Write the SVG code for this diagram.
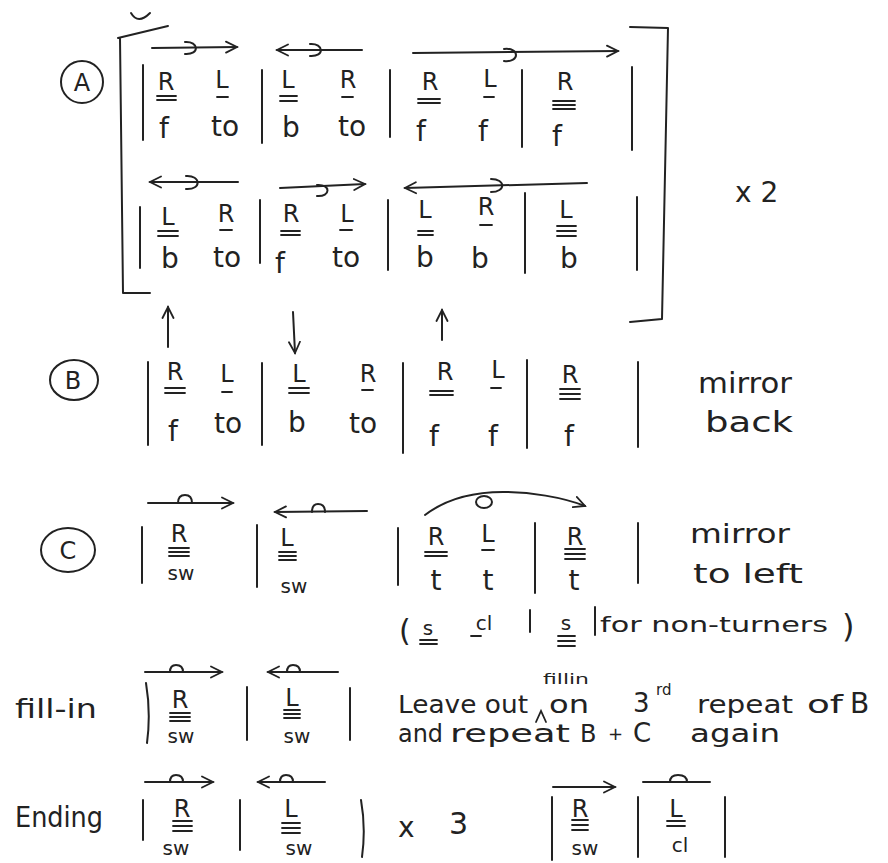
<svg xmlns="http://www.w3.org/2000/svg" width="888" height="863" viewBox="0 0 888 863">
<style>
.s{stroke:#222;stroke-width:2;fill:none;stroke-linecap:round;stroke-linejoin:round}
.u{stroke:#222;stroke-width:1.8;fill:none;stroke-linecap:round}
.t{font-family:"DejaVu Sans","Liberation Sans",sans-serif;fill:#222;text-anchor:middle}
.c{font-size:24px}
.l{font-size:28px}
.m{font-size:20px}
.w{text-anchor:start}
</style>
<defs>
<marker id="ah" markerWidth="14" markerHeight="14" refX="12" refY="7" orient="auto-start-reverse" markerUnits="userSpaceOnUse">
<path d="M1,1.5 L12,7 L1,12.5" fill="none" stroke="#222" stroke-width="1.8" stroke-linecap="round"/>
</marker>
</defs>
<rect width="888" height="863" fill="#fff"/>

<g id="sectionA">
<ellipse class="s" cx="82" cy="82" rx="21" ry="21"/>
<text class="t c" x="82" y="91">A</text>
<path class="s" d="M131,13 Q138,25 150,13"/>
<path class="s" d="M168,26 L118,38 M120,38 L123,293 L150,293"/>
<path class="s" d="M630,27 L668,28 L662,319 L630,322"/>
<text class="t" x="735" y="202" style="font-size:28px;text-anchor:start">x 2</text>
</g>

<g id="connectors">
<!-- row A1 -->
<path class="s" d="M152,48 L237,47" marker-end="url(#ah)"/>
<path class="s" d="M185,42 C199,41 200,55 185,54"/>
<path class="s" d="M277,50 L362,50" marker-start="url(#ah)"/>
<path class="s" d="M310,44 C324,43 325,57 310,56"/>
<path class="s" d="M413,53 L618,51" marker-end="url(#ah)"/>
<path class="s" d="M504,49 C520,47 520,63 504,61"/>
<!-- row A2 -->
<path class="s" d="M150,182 L238,182" marker-start="url(#ah)"/>
<path class="s" d="M186,176 C201,175 202,190 186,189"/>
<path class="s" d="M280,188 L365,184" marker-end="url(#ah)"/>
<path class="s" d="M317,185 C331,184 331,197 317,196"/>
<path class="s" d="M405,188 L587,183" marker-start="url(#ah)"/>
<path class="s" d="M491,179 C506,179 506,192 491,192"/>
<!-- B arrows -->
<path class="s" d="M168,347 L168,307" marker-end="url(#ah)"/>
<path class="s" d="M293,312 L295,353" marker-end="url(#ah)"/>
<path class="s" d="M442,340 L442,310" marker-end="url(#ah)"/>
<!-- C arrows -->
<path class="s" d="M148,503 L233,503" marker-end="url(#ah)"/>
<path class="s" d="M178,503 Q178,495 185,495 Q192,495 192,503"/>
<path class="s" d="M275,512 L367,511" marker-start="url(#ah)"/>
<path class="s" d="M312,512 Q312,504 318,504 Q325,504 325,512"/>
<path class="s" d="M425,515 C450,496 478,492 503,492 C530,492 562,497 585,506" marker-end="url(#ah)"/>
<ellipse class="s" cx="484" cy="502" rx="8" ry="6"/>
<!-- fill-in arrows -->
<path class="s" d="M145,672 L222,672" marker-end="url(#ah)"/>
<path class="s" d="M170,672 Q170,665 176,665 Q183,665 183,672"/>
<path class="s" d="M268,672 L338,672" marker-start="url(#ah)"/>
<path class="s" d="M287,672 Q287,665 293,665 Q300,665 300,672"/>
<!-- ending arrows -->
<path class="s" d="M145,782 L213,782" marker-end="url(#ah)"/>
<path class="s" d="M170,782 Q170,775 176,775 Q183,775 183,782"/>
<path class="s" d="M258,782 L325,782" marker-start="url(#ah)"/>
<path class="s" d="M280,782 Q280,775 286,775 Q293,775 293,782"/>
<path class="s" d="M553,787 L615,787" marker-end="url(#ah)"/>
<path class="s" d="M643,782 L710,782 M670,782 Q670,775 678,775 Q687,775 687,782"/>
</g>

<g id="rowA1">
<path class="s" d="M143,65 L143,140 M262,70 L262,143 M390,70 L390,137 M522,70 L522,147 M632,67 L632,150"/>
<text class="t c" x="166" y="90">R</text>
<path class="u" d="M157,96 L176,96 M157,100 L176,100"/>
<text class="t l" x="164" y="138">f</text>
<text class="t c" x="222" y="88">L</text>
<path class="u" d="M217,97 L228,97"/>
<text class="t l" x="225" y="136">to</text>
<text class="t c" x="288" y="88">L</text>
<path class="u" d="M280,96 L297,96 M280,101 L297,101"/>
<text class="t l" x="291" y="137">b</text>
<text class="t c" x="348" y="88">R</text>
<path class="u" d="M342,97 L353,97"/>
<text class="t l" x="352" y="136">to</text>
<text class="t c" x="430" y="90">R</text>
<path class="u" d="M418,99 L440,99 M418,103 L440,103"/>
<text class="t l" x="421" y="141">f</text>
<text class="t c" x="490" y="87">L</text>
<path class="u" d="M484,97 L494,97"/>
<text class="t l" x="483" y="141">f</text>
<text class="t c" x="565" y="90">R</text>
<path class="u" d="M553,101 L575,101 M553,105 L575,105 M553,109 L575,109"/>
<text class="t l" x="557" y="146">f</text>
</g>

<g id="rowA2">
<path class="s" d="M140,207 L140,268 M260,200 L260,263 M388,200 L388,270 M525,193 L525,273 M637,197 L637,270"/>
<text class="t c" x="168" y="225">L</text>
<path class="u" d="M158,231 L178,231 M158,236 L178,236"/>
<text class="t l" x="170" y="268">b</text>
<text class="t c" x="226" y="222">R</text>
<path class="u" d="M220,230 L232,230"/>
<text class="t l" x="227" y="267">to</text>
<text class="t c" x="291" y="222">R</text>
<path class="u" d="M281,231 L300,231 M281,235 L300,235"/>
<text class="t l" x="280" y="273">f</text>
<text class="t c" x="347" y="222">L</text>
<path class="u" d="M340,230 L352,230"/>
<text class="t l" x="346" y="267">to</text>
<text class="t c" x="425" y="218">L</text>
<path class="u" d="M418,231 L433,231 M418,235 L433,235"/>
<text class="t l" x="425" y="267">b</text>
<text class="t c" x="486" y="215">R</text>
<path class="u" d="M480,225 L492,225"/>
<text class="t l" x="480" y="268">b</text>
<text class="t c" x="566" y="218">L</text>
<path class="u" d="M557,226 L576,226 M557,231 L576,231 M557,236 L576,236"/>
<text class="t l" x="569" y="268">b</text>
</g>

<g id="sectionB">
<ellipse class="s" cx="74" cy="380" rx="24" ry="20"/>
<text class="t c" x="73" y="389">B</text>
<path class="s" d="M148,362 L148,445 M262,363 L262,445 M403,363 L403,453 M527,360 L527,448 M638,362 L638,447"/>
<text class="t c" x="175" y="380">R</text>
<path class="u" d="M165,388 L185,388 M165,393 L185,393"/>
<text class="t l" x="173" y="441">f</text>
<text class="t c" x="227" y="382">L</text>
<path class="u" d="M222,392 L232,392"/>
<text class="t l" x="228" y="433">to</text>
<text class="t c" x="299" y="382">L</text>
<path class="u" d="M289,388 L309,388 M289,393 L309,393"/>
<text class="t l" x="297" y="432">b</text>
<text class="t c" x="368" y="382">R</text>
<path class="u" d="M362,390 L373,390"/>
<text class="t l" x="363" y="433">to</text>
<text class="t c" x="445" y="380">R</text>
<path class="u" d="M430,391 L453,391 M430,395 L453,395"/>
<text class="t l" x="434" y="446">f</text>
<text class="t c" x="498" y="378">L</text>
<path class="u" d="M491,388 L501,388"/>
<text class="t l" x="493" y="446">f</text>
<text class="t c" x="570" y="383">R</text>
<path class="u" d="M560,389 L580,389 M560,394 L580,394 M560,399 L580,399"/>
<text class="t l" x="569" y="446">f</text>
<text class="t w" x="698" y="393" style="font-size:28px" textLength="94" lengthAdjust="spacingAndGlyphs">mirror</text>
<text class="t w" x="705" y="432" style="font-size:28px" textLength="88" lengthAdjust="spacingAndGlyphs">back</text>
</g>

<g id="sectionC">
<ellipse class="s" cx="68" cy="550" rx="27" ry="22"/>
<text class="t c" x="68" y="559">C</text>
<path class="s" d="M142,527 L142,583 M257,525 L257,587 M398,528 L398,585 M535,523 L535,593 M638,523 L638,583"/>
<text class="t c" x="179" y="542">R</text>
<path class="u" d="M169,548 L189,548 M169,552 L189,552 M169,556 L189,556"/>
<text class="t m" x="181" y="580">sw</text>
<text class="t c" x="287" y="546">L</text>
<path class="u" d="M279,552 L296,552 M279,556 L296,556 M279,560 L296,560"/>
<text class="t m" x="294" y="593">sw</text>
<text class="t c" x="436" y="545">R</text>
<path class="u" d="M425,552 L447,552 M425,556 L447,556"/>
<text class="t l" x="436" y="590">t</text>
<text class="t c" x="488" y="542">L</text>
<path class="u" d="M482,550 L494,550"/>
<text class="t l" x="488" y="590">t</text>
<text class="t c" x="575" y="545">R</text>
<path class="u" d="M565,549 L585,549 M565,554 L585,554 M565,559 L585,559"/>
<text class="t l" x="574" y="590">t</text>
<text class="t w" x="690" y="543" style="font-size:26px" textLength="100" lengthAdjust="spacingAndGlyphs">mirror</text>
<text class="t w" x="693" y="583" style="font-size:26px" textLength="110" lengthAdjust="spacingAndGlyphs">to left</text>
</g>

<g id="nonTurners">
<text class="t w" x="399" y="641" style="font-size:30px">(</text>
<text class="t m" x="428" y="635">s</text>
<path class="u" d="M420,640 L437,640 M420,644 L437,644"/>
<text class="t m" x="484" y="630">cl</text>
<path class="u" d="M471,636 L481,636"/>
<path class="s" d="M530,610 L530,632"/>
<text class="t m" x="566" y="630">s</text>
<path class="u" d="M558,636 L575,636 M558,641 L575,641 M558,646 L575,646"/>
<path class="s" d="M595,607 L595,635"/>
<text class="t w" x="600" y="632" style="font-size:22px" textLength="228" lengthAdjust="spacingAndGlyphs">for non-turners</text>
<text class="t w" x="842" y="637" style="font-size:32px">)</text>
</g>

<g id="fillIn">
<text class="t w" x="15" y="718" style="font-size:26px" textLength="82" lengthAdjust="spacingAndGlyphs">fill-in</text>
<path class="s" d="M146,683 Q151,713 147,743 M247,687 L247,740 M350,688 L350,740"/>
<text class="t c" x="180" y="708">R</text>
<path class="u" d="M170,713 L190,713 M170,717 L190,717 M170,721 L190,721"/>
<text class="t m" x="181" y="743">sw</text>
<text class="t c" x="292" y="706">L</text>
<path class="u" d="M284,710 L300,710 M284,714 L300,714 M284,718 L300,718"/>
<text class="t m" x="297" y="743">sw</text>
<text class="t w" x="398" y="713" style="font-size:24px" textLength="130" lengthAdjust="spacingAndGlyphs">Leave out</text>
<path class="u" d="M536,722 L541,711 L546,722"/>
<text class="t w" x="543" y="684" style="font-size:14px" textLength="46" lengthAdjust="spacingAndGlyphs">fillin</text>
<text class="t w" x="549" y="713" style="font-size:24px" textLength="40" lengthAdjust="spacingAndGlyphs">on</text>
<text class="t w" x="633" y="712" style="font-size:26px">3</text>
<text class="t w" x="656" y="695" style="font-size:15px">rd</text>
<text class="t w" x="697" y="713" style="font-size:24px" textLength="96" lengthAdjust="spacingAndGlyphs">repeat</text>
<text class="t w" x="807" y="713" style="font-size:24px" textLength="36" lengthAdjust="spacingAndGlyphs">of</text>
<text class="t w" x="850" y="713" style="font-size:28px">B</text>
<text class="t w" x="398" y="742" style="font-size:24px" textLength="45" lengthAdjust="spacingAndGlyphs">and</text>
<text class="t w" x="450" y="742" style="font-size:24px" textLength="120" lengthAdjust="spacingAndGlyphs">repeat</text>
<text class="t w" x="580" y="742" style="font-size:24px">B</text>
<text class="t w" x="608" y="740" style="font-size:18px">+</text>
<text class="t w" x="633" y="742" style="font-size:26px">C</text>
<text class="t w" x="690" y="742" style="font-size:24px" textLength="90" lengthAdjust="spacingAndGlyphs">again</text>
</g>

<g id="ending">
<text class="t w" x="15" y="827" style="font-size:28px" textLength="88" lengthAdjust="spacingAndGlyphs">Ending</text>
<path class="s" d="M143,800 L143,840 M240,800 L240,850 M361,800 Q366,828 362,857"/>
<text class="t c" x="182" y="817">R</text>
<path class="u" d="M173,821 L192,821 M173,826 L192,826 M173,831 L192,831"/>
<text class="t m" x="176" y="855">sw</text>
<text class="t c" x="291" y="817">L</text>
<path class="u" d="M282,823 L300,823 M282,828 L300,828 M282,833 L300,833"/>
<text class="t m" x="299" y="855">sw</text>
<text class="t w" x="398" y="837" style="font-size:28px">x</text>
<text class="t w" x="449" y="834" style="font-size:30px">3</text>
<path class="s" d="M552,797 L552,860 M638,797 L638,857 M725,797 L725,857"/>
<text class="t c" x="580" y="817">R</text>
<path class="u" d="M572,820 L588,820 M572,825 L588,825 M572,830 L588,830"/>
<text class="t m" x="585" y="855">sw</text>
<text class="t c" x="676" y="817">L</text>
<path class="u" d="M667,821 L685,821 M667,826 L685,826"/>
<text class="t m" x="680" y="852">cl</text>
</g>
</svg>
